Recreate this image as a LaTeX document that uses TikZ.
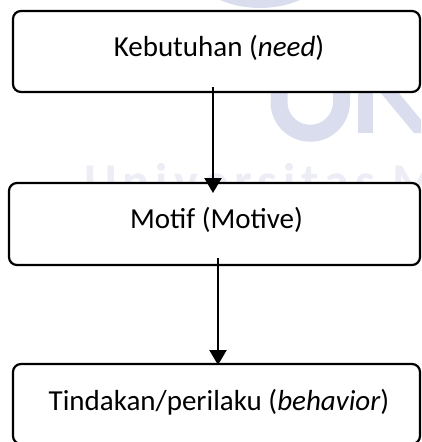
\documentclass[tikz,border=0pt]{standalone}
\usepackage{fontspec}
\setmainfont{Carlito}
\usetikzlibrary{arrows.meta}
\definecolor{wmark}{RGB}{218,221,238}
\definecolor{wmtext}{RGB}{236,237,245}
\tikzset{
  box/.style={draw=black, line width=2.2pt, rounded corners=8pt, fill=white,
    inner sep=0pt, outer sep=0pt},
  label/.style={anchor=base, inner sep=0pt, font=\fontsize{29}{34}\selectfont},
  arr/.style={draw=black, line width=2.3pt, -{Triangle[length=15pt,width=17pt]}}
}
\begin{document}
\begin{tikzpicture}[x=1pt,y=1pt]
\useasboundingbox (0,0) rectangle (421,-442);
% faint watermark
\begin{scope}
\clip (0,0) rectangle (421,-442);
\fill[wmark] (260,96) circle (104);
\draw[wmark, line width=17pt] (279,-60) -- (279,-102) arc (180:360:31.25) -- (341.5,-60);
\fill[wmark] (358,-60) rectangle (373,-133);
\fill[wmark] (370,-80) -- (388,-80) -- (432,-133) -- (414,-133) -- cycle;
\node[anchor=base west, inner sep=0pt, text=wmtext,
  font={\fontsize{50}{56}\bfseries\addfontfeature{LetterSpace=12}}] (wm) at (84,-198) {Universitas M};
\end{scope}
% boxes
\node[box, minimum width=407pt, minimum height=81pt] (k) at (216.5,-51.5) {};
\node[box, minimum width=411pt, minimum height=82pt] (m) at (214.5,-224) {};
\node[box, minimum width=407pt, minimum height=80pt] (t) at (216.5,-404) {};
% texts
\node[label] (kt) at (219,-56) {Kebutuhan (\textit{need})};
\node[label] (mt) at (216.5,-228) {Motif (Motive)};
\node[label] (tt) at (219,-410) {Tindakan/perilaku (\textit{behavior})};
% connectors
\draw[arr] ([xshift=-3.5pt,yshift=5pt]k.south) -- ([xshift=-1.5pt,yshift=-10pt]m.north);
\draw[arr] ([xshift=3.5pt,yshift=7pt]m.south) -- ([xshift=1.5pt,yshift=-1pt]t.north);
\end{tikzpicture}
\end{document}
